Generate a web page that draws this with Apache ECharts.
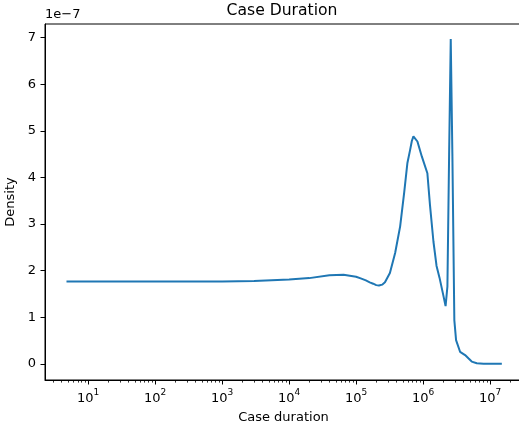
<!DOCTYPE html>
<html>
<head>
<meta charset="utf-8">
<script src="https://cdn.jsdelivr.net/npm/echarts@6/dist/echarts.min.js"></script>
<style>
  html, body { margin: 0; padding: 0; background: #fff; overflow: hidden; }
  #chart { width: 519px; height: 431px; }
</style>
</head>
<body>
<div id="chart"></div>
<script>
// case duration (x, log scale) and KDE density in units of 1e-7
const caseDuration = [4.75, 1000, 3000, 1e4, 2e4, 4e4, 6.5e4, 1e5, 1.2e5, 1.4e5, 1.6e5, 1.8e5, 2.0e5,
  2.2e5, 2.45e5, 2.7e5, 3.2e5,
  3.83e5, 4.55e5, 5.22e5, 5.84e5, 6.41e5, 6.8e5, 7.18e5, 7.6e5, 8.24e5, 9.58e5, 1.16e6, 1.27e6,
  1.43e6, 1.59e6, 1.76e6, 2.0e6, 2.17e6, 2.31e6, 2.45e6, 2.59e6, 2.74e6, 2.93e6, 3.11e6, 3.57e6,
  4.24e6, 4.75e6, 5.33e6, 6.34e6, 8e6, 1.5e7];
const densityE7 = [1.77, 1.77, 1.78, 1.81, 1.84, 1.90, 1.91, 1.87, 1.83, 1.79, 1.75, 1.72, 1.69,
  1.68, 1.70, 1.75, 1.95,
  2.38, 2.95, 3.67, 4.31, 4.59, 4.78, 4.88, 4.85, 4.77, 4.45, 4.09, 3.40,
  2.62, 2.10, 1.85, 1.48, 1.24, 1.66, 4.5, 6.97, 4.5, 0.94, 0.51, 0.26,
  0.19, 0.12, 0.05, 0.015, 0.005, 0.005];
const xMajorTicks = [10, 100, 1000, 1e4, 1e5, 1e6, 1e7];
const yTicks = [0, 1, 2, 3, 4, 5, 6, 7];

const xMin = 2.27, xMax = 3.0e7;
const xMinorTicks = [];
for (let p = 1; p <= 1e7; p *= 10) {
  for (let k = 2; k <= 9; k++) {
    const v = k * p;
    if (v > xMin && v < xMax) xMinorTicks.push(v);
  }
}

const font = 'DejaVu Sans';
const chart = echarts.init(document.getElementById('chart'));

const option = {
  animation: false,
  grid: {
    left: 45, width: 477, top: 24, bottom: 51,
    outerBoundsMode: 'none',
    show: true, borderColor: '#000', borderWidth: 1
  },
  graphic: [
    {
      type: 'text', x: 282, y: 3,
      style: { text: 'Case Duration', textAlign: 'center', textVerticalAlign: 'top',
        fontSize: 15.6, fontFamily: font, fill: '#000' }
    },
    {
      type: 'text', x: 45, y: 8,
      style: { text: '1e\u22127', textAlign: 'left', textVerticalAlign: 'top',
        fontSize: 13, fontFamily: font, fill: '#000' }
    }
  ],
  xAxis: [
    {
      type: 'log', logBase: 10, min: xMin, max: xMax,
      name: 'Case duration', nameLocation: 'middle', nameGap: 31,
      nameTextStyle: { fontSize: 13, fontFamily: font, color: '#000' },
      axisLine: { onZero: false, lineStyle: { color: '#000', width: 1 } },
      axisTick: { customValues: xMajorTicks, length: 4.5, lineStyle: { color: '#000', width: 1 } },
      axisLabel: {
        customValues: xMajorTicks, margin: 8,
        formatter: v => '{b|10}{e|' + Math.round(Math.log10(v)) + '}',
        rich: {
          b: { fontSize: 13, fontFamily: font, color: '#000', verticalAlign: 'bottom', padding: [4, 0, 0, 0] },
          e: { fontSize: 9, fontFamily: font, color: '#000', verticalAlign: 'top' }
        }
      },
      splitLine: { show: false }
    },
    {
      type: 'log', logBase: 10, min: xMin, max: xMax, position: 'bottom',
      axisLine: { show: false, onZero: false },
      axisTick: { customValues: xMinorTicks, length: 2.6, lineStyle: { color: '#000', width: 0.8 } },
      axisLabel: { show: false },
      splitLine: { show: false }
    }
  ],
  yAxis: {
    type: 'value', min: -0.345, max: 7.29,
    name: 'Density', nameLocation: 'middle', nameGap: 22, nameRotate: 90,
    nameTextStyle: { fontSize: 13, fontFamily: font, color: '#000' },
    axisLine: { show: true, lineStyle: { color: '#000', width: 1 } },
    axisTick: { show: true, customValues: yTicks, length: 4.5, lineStyle: { color: '#000', width: 1 } },
    axisLabel: { customValues: yTicks, margin: 9, fontSize: 13, fontFamily: font, color: '#000' },
    splitLine: { show: false }
  },
  series: [{
    type: 'line',
    xAxisIndex: 0,
    data: caseDuration.map((x, i) => [x, densityE7[i]]),
    showSymbol: false,
    lineStyle: { color: '#1f77b4', width: 2 },
    itemStyle: { color: '#1f77b4' }
  }]
};
chart.setOption(option);
</script>
</body>
</html>
